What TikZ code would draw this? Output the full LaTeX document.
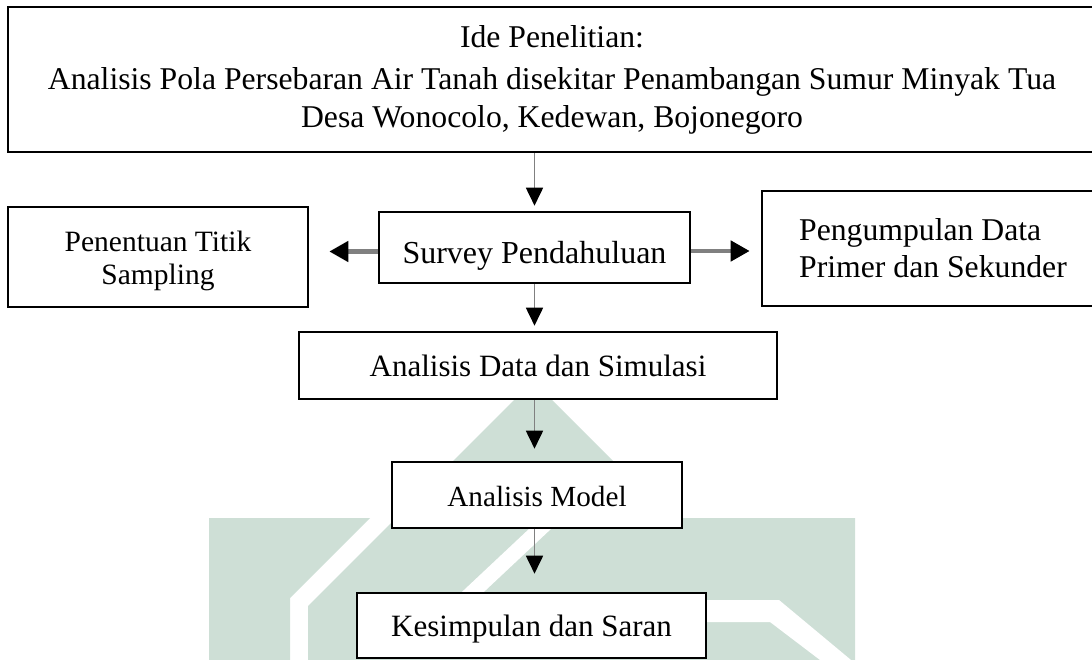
\documentclass[tikz,border=0pt]{standalone}
\usepackage{fontspec}
\setmainfont{Liberation Serif}
\usetikzlibrary{arrows.meta}
\definecolor{wm}{RGB}{206,223,214}
\definecolor{shaft}{RGB}{128,128,128}
\newcommand{\dnshift}[2]{\raisebox{-#1}[\height][\depth]{#2}}
\tikzset{
 box/.style={draw=black, line width=2.6pt, fill=white, inner sep=0pt, align=center},
 flow/.style={draw=shaft, line width=1.8pt, -{Triangle[length=18pt,width=17pt,color=black,fill=black]}},
 side/.style={draw=shaft, line width=4.5pt, -{Triangle[length=19pt,width=20pt,color=black,fill=black]}},
}
\begin{document}
\begin{tikzpicture}[x=1pt,y=-1pt]
\useasboundingbox (0,0) rectangle (1092,660);
\clip (0,0) rectangle (1092,660);
% watermark
\fill[wm] (209,518) -- (370,518) -- (290,598) -- (290,660) -- (209,660) -- cycle;
\fill[wm] (533,381) -- (308,606) -- (308,660) -- (855,660) -- (855,518) -- (670,518) -- cycle;
\fill[white] (530,528) -- (552,528) -- (470,605) -- (448,605) -- cycle;
\fill[white] (700,600) -- (779,600) -- (851,660) -- (820,660) -- (770,622) -- (700,622) -- cycle;
% boxes
\node[box, minimum width=1088pt, minimum height=145pt, font=\fontsize{31.7}{38}\selectfont] (idea) at (552,79.5)
  {Ide Penelitian:\\[4pt] Analisis Pola Persebaran Air Tanah disekitar Penambangan Sumur Minyak Tua\\ Desa Wonocolo, Kedewan, Bojonegoro};
\node[box, minimum width=311pt, minimum height=71pt, font=\fontsize{32}{38}\selectfont] (survey) at (534.5,247.5) {\dnshift{8pt}{Survey Pendahuluan}};
\node[box, minimum width=300pt, minimum height=100pt, font=\fontsize{29.5}{33}\selectfont] (titik) at (158,257)
  {\dnshift{4pt}{\begin{tabular}{@{}c@{}}Penentuan Titik\\Sampling\end{tabular}}};
\node[box, minimum width=342pt, minimum height=115pt, align=left, font=\fontsize{31.7}{37}\selectfont] (data) at (933,248.5) {Pengumpulan Data\\Primer dan Sekunder};
\node[box, minimum width=478pt, minimum height=67pt, font=\fontsize{31}{36}\selectfont] (sim) at (538,365.5) {Analisis Data dan Simulasi};
\node[box, minimum width=290pt, minimum height=66pt, font=\fontsize{29.2}{34}\selectfont] (model) at (537,495) {\dnshift{2pt}{Analisis Model}};
\node[box, minimum width=349pt, minimum height=65pt, font=\fontsize{31}{36}\selectfont] (kes) at (531.5,625.5) {\dnshift{4pt}{Kesimpulan dan Saran}};
% connectors
\draw[flow, shorten >=5pt] (survey.north |- idea.south) -- (survey.north);
\draw[flow, shorten >=5pt] (survey.south) -- (survey.south |- sim.north);
\draw[flow, shorten >=12pt] (survey.south |- sim.south) -- (survey.south |- model.north);
\draw[flow, shorten >=18pt] (survey.south |- model.south) -- (survey.south |- kes.north);
\draw[side, shorten >=20pt] ([yshift=-4pt]survey.west) -- ([yshift=-4pt]survey.west -| titik.east);
\draw[side, shorten >=11pt] ([yshift=-3.5pt]survey.east) -- ([yshift=-3.5pt]survey.east -| data.west);
\end{tikzpicture}
\end{document}
